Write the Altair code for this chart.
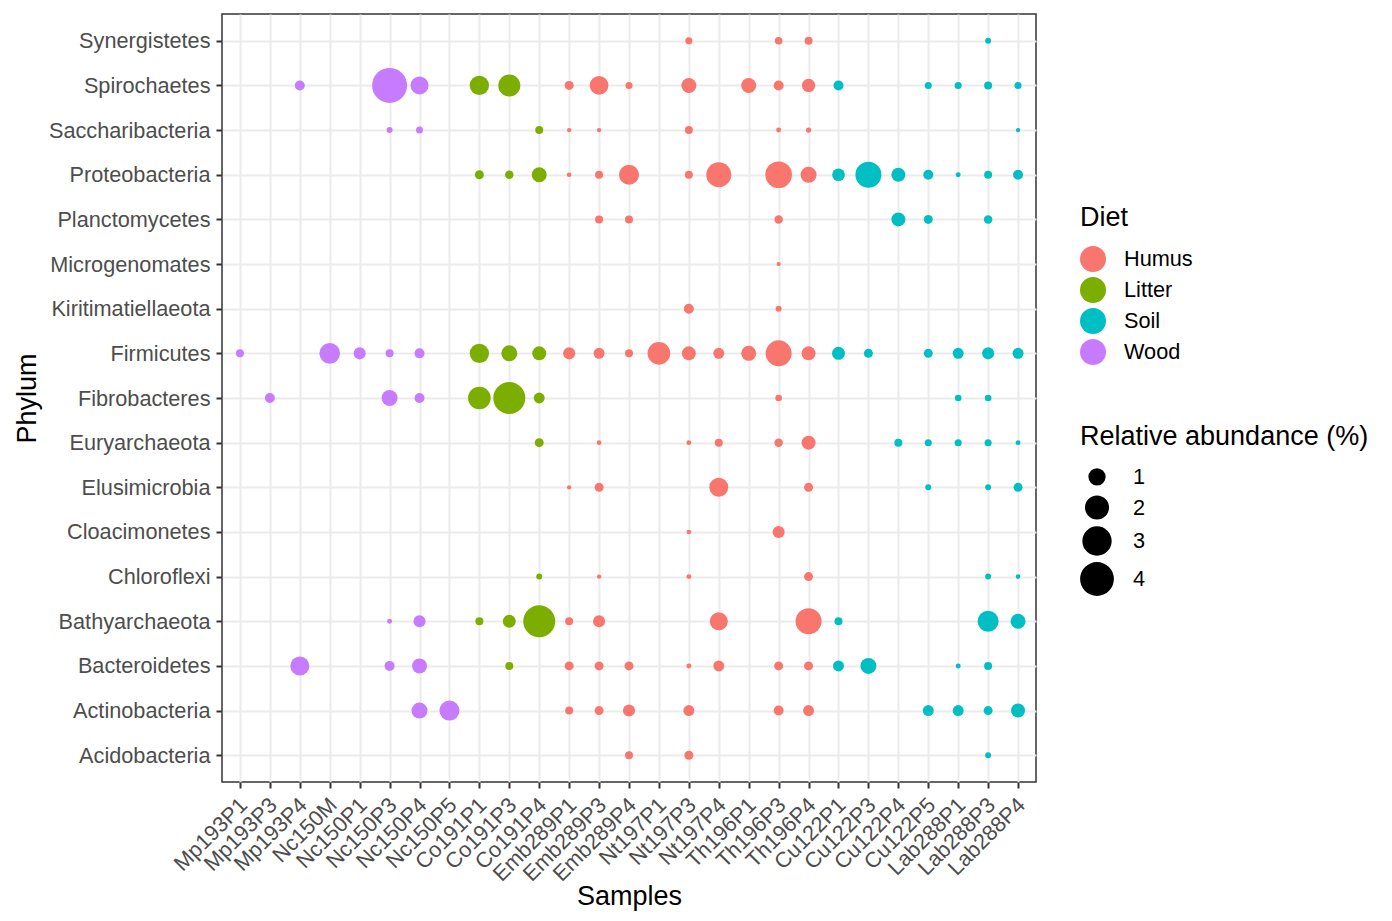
import altair as alt
import pandas as pd

samples = ["Mp193P1", "Mp193P3", "Mp193P4", "Nc150M", "Nc150P1", "Nc150P3", "Nc150P4",
           "Nc150P5", "Co191P1", "Co191P3", "Co191P4", "Emb289P1", "Emb289P3", "Emb289P4",
           "Nt197P1", "Nt197P3", "Nt197P4", "Th196P1", "Th196P3", "Th196P4", "Cu122P1",
           "Cu122P3", "Cu122P4", "Cu122P5", "Lab288P1", "Lab288P3", "Lab288P4"]
sample_diet = (["Wood"] * 8) + (["Litter"] * 3) + (["Humus"] * 9) + (["Soil"] * 7)

phyla = ["Synergistetes", "Spirochaetes", "Saccharibacteria", "Proteobacteria",
         "Planctomycetes", "Microgenomates", "Kiritimatiellaeota", "Firmicutes",
         "Fibrobacteres", "Euryarchaeota", "Elusimicrobia", "Cloacimonetes",
         "Chloroflexi", "Bathyarchaeota", "Bacteroidetes", "Actinobacteria", "Acidobacteria"]

diets = ["Humus", "Litter", "Soil", "Wood"]
diet_colors = ["#F8766D", "#7CAE00", "#00BFC4", "#C77CFF"]

# relative abundance (%) per phylum: (sample, value)
synergistetes = [("Nt197P3", 0.12), ("Th196P3", 0.15), ("Th196P4", 0.17), ("Lab288P3", 0.07)]
spirochaetes = [("Mp193P4", 0.30), ("Nc150P3", 4.3), ("Nc150P4", 1.1), ("Co191P1", 1.27),
                ("Co191P3", 1.67), ("Emb289P1", 0.23), ("Emb289P3", 1.19), ("Emb289P4", 0.12),
                ("Nt197P3", 0.74), ("Th196P1", 0.74), ("Th196P3", 0.30), ("Th196P4", 0.57),
                ("Cu122P1", 0.30), ("Cu122P5", 0.12), ("Lab288P1", 0.12), ("Lab288P3", 0.17),
                ("Lab288P4", 0.12)]
saccharibacteria = [("Nc150P3", 0.07), ("Nc150P4", 0.12), ("Co191P4", 0.17), ("Emb289P1", 0.01),
                    ("Emb289P3", 0.01), ("Nt197P3", 0.17), ("Th196P3", 0.03), ("Th196P4", 0.04),
                    ("Lab288P4", 0.01)]
proteobacteria = [("Co191P1", 0.23), ("Co191P3", 0.20), ("Co191P4", 0.74), ("Emb289P1", 0.02),
                  ("Emb289P3", 0.17), ("Emb289P4", 1.37), ("Nt197P3", 0.17), ("Nt197P4", 2.17),
                  ("Th196P3", 2.47), ("Th196P4", 0.85), ("Cu122P1", 0.52), ("Cu122P3", 2.35),
                  ("Cu122P4", 0.64), ("Cu122P5", 0.30), ("Lab288P1", 0.03), ("Lab288P3", 0.17),
                  ("Lab288P4", 0.30)]
planctomycetes = [("Emb289P3", 0.17), ("Emb289P4", 0.17), ("Th196P3", 0.20), ("Cu122P4", 0.64),
                  ("Cu122P5", 0.23), ("Lab288P3", 0.20)]
microgenomates = [("Th196P3", 0.005)]
kiritimatiellaeota = [("Nt197P3", 0.30), ("Th196P3", 0.07)]
firmicutes = [("Mp193P1", 0.17), ("Nc150M", 1.47), ("Nc150P1", 0.46), ("Nc150P3", 0.17),
              ("Nc150P4", 0.30), ("Co191P1", 1.27), ("Co191P3", 0.85), ("Co191P4", 0.64),
              ("Emb289P1", 0.46), ("Emb289P3", 0.37), ("Emb289P4", 0.17), ("Nt197P1", 1.77),
              ("Nt197P3", 0.64), ("Nt197P4", 0.37), ("Th196P1", 0.74), ("Th196P3", 2.35),
              ("Th196P4", 0.64), ("Cu122P1", 0.54), ("Cu122P3", 0.23), ("Cu122P5", 0.23),
              ("Lab288P1", 0.37), ("Lab288P3", 0.46), ("Lab288P4", 0.37)]
fibrobacteres = [("Mp193P3", 0.30), ("Nc150P3", 0.85), ("Nc150P4", 0.30), ("Co191P1", 1.77),
                 ("Co191P3", 3.59), ("Co191P4", 0.37), ("Th196P3", 0.10), ("Lab288P1", 0.10),
                 ("Lab288P3", 0.10)]
euryarchaeota = [("Co191P4", 0.23), ("Emb289P3", 0.02), ("Nt197P3", 0.03), ("Nt197P4", 0.17),
                 ("Th196P3", 0.20), ("Th196P4", 0.64), ("Cu122P4", 0.17), ("Cu122P5", 0.12),
                 ("Lab288P1", 0.12), ("Lab288P3", 0.12), ("Lab288P4", 0.03)]
elusimicrobia = [("Emb289P1", 0.01), ("Emb289P3", 0.23), ("Nt197P4", 1.23), ("Th196P4", 0.23),
                 ("Cu122P5", 0.07), ("Lab288P3", 0.07), ("Lab288P4", 0.23)]
cloacimonetes = [("Nt197P3", 0.02), ("Th196P3", 0.46)]
chloroflexi = [("Co191P4", 0.07), ("Emb289P3", 0.01), ("Nt197P3", 0.03), ("Th196P4", 0.23),
               ("Lab288P3", 0.07), ("Lab288P4", 0.02)]
bathyarchaeota = [("Nc150P3", 0.03), ("Nc150P4", 0.46), ("Co191P1", 0.17), ("Co191P3", 0.54),
                  ("Co191P4", 3.59), ("Emb289P1", 0.17), ("Emb289P3", 0.46), ("Nt197P4", 1.10),
                  ("Th196P4", 2.35), ("Cu122P1", 0.17), ("Lab288P3", 1.51), ("Lab288P4", 0.74)]
bacteroidetes = [("Mp193P4", 1.23), ("Nc150P3", 0.30), ("Nc150P4", 0.74), ("Co191P3", 0.17),
                 ("Emb289P1", 0.23), ("Emb289P3", 0.23), ("Emb289P4", 0.23), ("Nt197P3", 0.03),
                 ("Nt197P4", 0.37), ("Th196P3", 0.23), ("Th196P4", 0.23), ("Cu122P1", 0.37),
                 ("Cu122P3", 0.85), ("Lab288P1", 0.03), ("Lab288P3", 0.17)]
actinobacteria = [("Nc150P4", 0.85), ("Nc150P5", 1.37), ("Emb289P1", 0.17), ("Emb289P3", 0.23),
                  ("Emb289P4", 0.46), ("Nt197P3", 0.37), ("Th196P3", 0.30), ("Th196P4", 0.37),
                  ("Cu122P5", 0.37), ("Lab288P1", 0.37), ("Lab288P3", 0.23), ("Lab288P4", 0.64)]
acidobacteria = [("Emb289P4", 0.17), ("Nt197P3", 0.23), ("Lab288P3", 0.07)]

by_phylum = {
    "Synergistetes": synergistetes, "Spirochaetes": spirochaetes,
    "Saccharibacteria": saccharibacteria, "Proteobacteria": proteobacteria,
    "Planctomycetes": planctomycetes, "Microgenomates": microgenomates,
    "Kiritimatiellaeota": kiritimatiellaeota, "Firmicutes": firmicutes,
    "Fibrobacteres": fibrobacteres, "Euryarchaeota": euryarchaeota,
    "Elusimicrobia": elusimicrobia, "Cloacimonetes": cloacimonetes,
    "Chloroflexi": chloroflexi, "Bathyarchaeota": bathyarchaeota,
    "Bacteroidetes": bacteroidetes, "Actinobacteria": actinobacteria,
    "Acidobacteria": acidobacteria,
}

diet_map = dict(zip(samples, sample_diet))
rows = []
for ph, entries in by_phylum.items():
    for s, v in entries:
        rows.append({"Phylum": ph, "Sample": s, "Diet": diet_map[s], "Abundance": v})
df = pd.DataFrame(rows)

FONT = "Liberation Sans"
LABEL_SIZE = 21.7

chart = alt.Chart(df).mark_circle(opacity=1, strokeWidth=0).encode(
    x=alt.X("Sample:N", sort=samples,
            scale=alt.Scale(type="point", domain=samples, padding=0.6),
            axis=alt.Axis(title="Samples", labelAngle=-45, labelAlign="right",
                          labelBaseline="top", labelPadding=6, labelOffset=-4,
                          titleX=407, titleY=122, titleBaseline="alphabetic",
                          titleAlign="center")),
    y=alt.Y("Phylum:N", sort=phyla,
            scale=alt.Scale(type="point", domain=phyla, padding=0.6),
            axis=alt.Axis(title="Phylum", labelPadding=6,
                          titleX=-187, titleY=384, titleBaseline="alphabetic",
                          titleAlign="center", titleAngle=-90)),
    color=alt.Color("Diet:N", scale=alt.Scale(domain=diets, range=diet_colors),
                    legend=alt.Legend(title="Diet", orient="none", legendX=858, legendY=191,
                                      symbolType="circle", symbolSize=676,
                                      symbolStrokeWidth=0, symbolOpacity=1,
                                      labelOffset=18, rowPadding=5, titlePadding=14)),
    size=alt.Size("Abundance:Q", scale=alt.Scale(domain=[0, 4.3], range=[16, 1225]),
                  legend=alt.Legend(title="Relative abundance (%)", orient="none",
                                    legendX=858, legendY=410, values=[1, 2, 3, 4],
                                    symbolType="circle", symbolFillColor="black",
                                    symbolStrokeWidth=0, symbolOpacity=1, titleLimit=400,
                                    labelOffset=19, rowPadding=6, titlePadding=15)),
    order=alt.Order("Abundance:Q", sort="descending"),
).properties(
    width=814, height=768,
    autosize=alt.AutoSizeParams(type="none"),
    padding={"left": 214, "top": 6, "right": 340, "bottom": 131},
).configure_view(
    stroke="#333333", strokeWidth=1.5
).configure_axis(
    domain=False, grid=True, gridColor="#EBEBEB", gridWidth=2,
    ticks=True, tickColor="#333333", tickWidth=2, tickSize=6,
    labelFont=FONT, labelFontSize=LABEL_SIZE, labelColor="#4D4D4D",
    titleFont=FONT, titleFontSize=27, titleColor="black", titleFontWeight="normal",
).configure_legend(
    labelFont=FONT, labelFontSize=LABEL_SIZE, labelColor="black",
    titleFont=FONT, titleFontSize=27, titleColor="black", titleFontWeight="normal",
    padding=0, titleLimit=400,
)

chart.save("out.html", embed_options={"renderer": "svg", "actions": False})
